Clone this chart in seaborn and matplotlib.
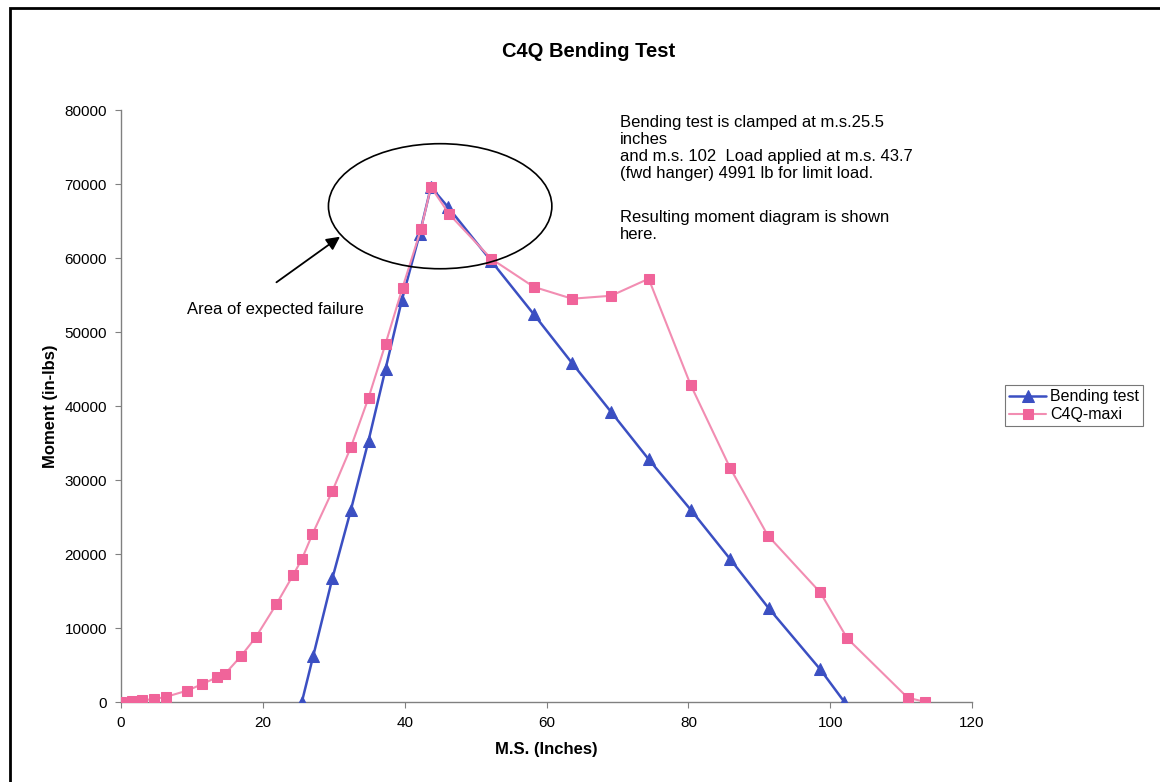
import numpy as np
import pandas as pd
import seaborn as sns
import matplotlib.pyplot as plt
from matplotlib.patches import Ellipse, Rectangle

# data (M.S. in inches, moment in in-lbs)
bend_ms = [25.5, 27.1, 29.8, 32.4, 34.9, 37.3, 39.6, 42.1, 43.7, 46.1,
           52.2, 58.2, 63.6, 69.1, 74.4, 80.4, 85.9, 91.3, 98.6, 102.0]
bend_moment = [0, 6200, 16700, 25900, 35300, 45000, 54300, 63200, 69600, 66900,
               59600, 52400, 45800, 39200, 32800, 25900, 19300, 12700, 4400, 0]

maxi_ms = [0, 1.5, 3.0, 4.7, 6.3, 9.3, 11.4, 13.5, 14.7, 16.9, 19.0, 21.9,
           24.3, 25.5, 27.0, 29.8, 32.4, 34.9, 37.3, 39.7, 42.3, 43.7, 46.3,
           52.2, 58.2, 63.6, 69.1, 74.4, 80.3, 85.9, 91.2, 98.6, 102.4, 110.9, 113.4]
maxi_moment = [0, 100, 230, 400, 680, 1530, 2390, 3340, 3830, 6180, 8740, 13200,
               17200, 19300, 22700, 28500, 34400, 41100, 48400, 56000, 63900, 69600, 65900,
               59900, 56100, 54500, 54900, 57200, 42900, 31600, 22500, 14800, 8600, 600, 0]

x_ticks = [0, 20, 40, 60, 80, 100, 120]
y_ticks = [0, 10000, 20000, 30000, 40000, 50000, 60000, 70000, 80000]

note_text = ("Bending test is clamped at m.s.25.5\ninches\n"
             "and m.s. 102  Load applied at m.s. 43.7\n"
             "(fwd hanger) 4991 lb for limit load.")
note_text2 = "Resulting moment diagram is shown\nhere."

BLUE = '#3b4fc2'
PINK_LINE = '#f28db2'
PINK_MARK = '#f0649a'

sns.set_style("white")
plt.rcParams['font.family'] = ['Liberation Sans', 'DejaVu Sans']
plt.rcParams['text.color'] = 'black'
plt.rcParams['axes.labelcolor'] = 'black'

fig = plt.figure(figsize=(11.6, 7.82), dpi=100)
ax = fig.add_axes([0.1043, 0.1023, 0.7337, 0.757])

bend = pd.DataFrame({'ms': bend_ms, 'moment': bend_moment})
maxi = pd.DataFrame({'ms': maxi_ms, 'moment': maxi_moment})

sns.lineplot(data=bend, x='ms', y='moment', sort=False, ax=ax, color=BLUE,
             linewidth=1.8, marker='^', markersize=8, markeredgecolor=BLUE,
             markerfacecolor=BLUE, label='Bending test', zorder=3)
sns.lineplot(data=maxi, x='ms', y='moment', sort=False, ax=ax, color=PINK_LINE,
             linewidth=1.5, marker='s', markersize=6.5, markeredgecolor=PINK_MARK,
             markerfacecolor=PINK_MARK, label='C4Q-maxi', zorder=4)

ax.set_xlim(0, 120)
ax.set_ylim(0, 80000)
ax.set_xticks(x_ticks)
ax.set_yticks(y_ticks)
ax.tick_params(axis='both', labelsize=11, length=4, width=0.8, color='#808080',
               labelcolor='black', direction='out', bottom=True, left=True, pad=6)
for side in ['top', 'right']:
    ax.spines[side].set_visible(False)
for side in ['left', 'bottom']:
    ax.spines[side].set_color('#808080')
    ax.spines[side].set_linewidth(1.0)

ax.set_xlabel('M.S. (Inches)', fontsize=12, fontweight='bold', labelpad=9)
ax.set_ylabel('Moment (in-lbs)', fontsize=12, fontweight='bold', labelpad=5)

fig.text(0.507, 0.934, 'C4Q Bending Test', ha='center', va='center',
         fontsize=14.5, fontweight='bold')

# area of expected failure
ax.add_patch(Ellipse((45.0, 67000), 31.5, 16900, fill=False, edgecolor='black',
                     linewidth=1.2, zorder=5))
ax.annotate('', xy=(31.2, 63100), xytext=(21.6, 56500),
            arrowprops=dict(arrowstyle='-|>', color='black', lw=1.3,
                            mutation_scale=20))
ax.text(9.3, 53000, 'Area of expected failure', fontsize=12, va='center')

ax.text(70.4, 79300, note_text, fontsize=12, va='top', linespacing=1.17)
ax.text(70.4, 66500, note_text2, fontsize=12, va='top', linespacing=1.17)

leg = ax.legend(loc='center left', bbox_to_anchor=(0.864, 0.481), bbox_transform=fig.transFigure,
                fontsize=11.5, frameon=True, fancybox=False, borderpad=0.25,
                handlelength=2.3, handletextpad=0.25, labelspacing=0.2, borderaxespad=0.2)
leg.get_frame().set_edgecolor('#555555')
leg.get_frame().set_linewidth(0.8)

# chart area border
fig.patches.append(Rectangle((0.009, -0.02), 1.2, 1.01, transform=fig.transFigure,
                             fill=False, edgecolor='black', linewidth=2.0))

fig.savefig('out.png', dpi=100)
